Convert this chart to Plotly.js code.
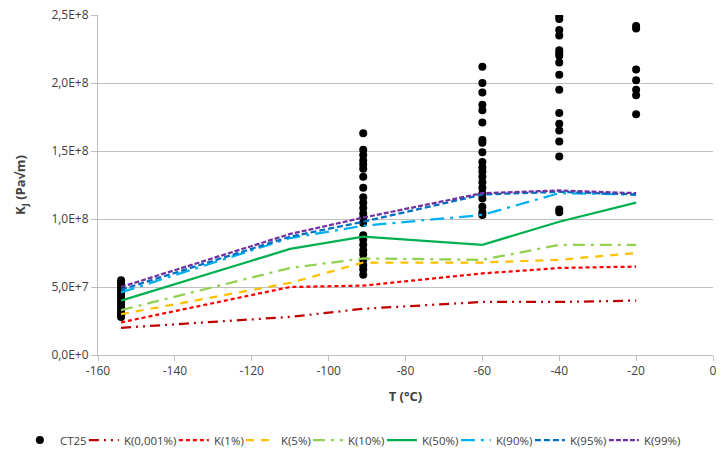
<!DOCTYPE html>
<html>
<head>
<meta charset="utf-8">
<script src="https://cdn.plot.ly/plotly-3.0.1.min.js"></script>
<style>html,body{margin:0;padding:0;background:#fff;}#chart{width:727px;height:452px;}</style>
</head>
<body>
<div id="chart"></div>
<script>
// CT25 test data: temperature (°C) and K_J (Pa√m)
const ct25_T = [
  -154,-154,-154,-154,-154,-154,-154,-154,-154,-154,-154,-154,-154,-154,-154,-154,
  -91,-91,-91,-91,-91,-91,-91,-91,-91,-91,-91,-91,-91,-91,-91,-91,-91,-91,-91,-91,-91,-91,-91,
  -60,-60,-60,-60,-60,-60,-60,-60,-60,-60,-60,-60,-60,-60,-60,-60,-60,-60,-60,-60,
  -40,-40,-40,-40,-40,-40,-40,-40,-40,-40,-40,-40,-40,-40,-40,-40,-40,
  -20,-20,-20,-20,-20,-20,-20
];
const ct25_K = [
  5.5e7,5.3e7,5.1e7,4.9e7,4.7e7,4.5e7,4.3e7,4.1e7,3.9e7,3.7e7,3.5e7,3.3e7,3.1e7,3.0e7,2.9e7,2.8e7,
  1.63e8,1.51e8,1.47e8,1.43e8,1.40e8,1.37e8,1.31e8,1.23e8,1.16e8,1.12e8,1.08e8,1.04e8,1.01e8,0.97e8,0.88e8,0.85e8,0.81e8,0.77e8,0.74e8,0.70e8,0.66e8,0.63e8,0.59e8,
  2.12e8,2.00e8,1.93e8,1.84e8,1.80e8,1.71e8,1.58e8,1.56e8,1.49e8,1.42e8,1.38e8,1.35e8,1.31e8,1.27e8,1.23e8,1.19e8,1.15e8,1.09e8,1.05e8,1.03e8,
  2.49e8,2.47e8,2.39e8,2.35e8,2.24e8,2.22e8,2.20e8,2.15e8,2.06e8,1.95e8,1.78e8,1.70e8,1.65e8,1.57e8,1.46e8,1.07e8,1.05e8,
  2.42e8,2.40e8,2.10e8,2.02e8,1.95e8,1.91e8,1.77e8
];

// Master curve temperatures and percentile curves
const curve_T = [-154, -110, -91, -60, -40, -20];
const k0001 = [2.0e7, 2.8e7, 3.4e7, 3.9e7, 3.9e7, 4.0e7];
const k1    = [2.4e7, 5.0e7, 5.1e7, 6.0e7, 6.4e7, 6.5e7];
const k5    = [3.0e7, 5.3e7, 6.8e7, 6.8e7, 7.0e7, 7.5e7];
const k10   = [3.3e7, 6.4e7, 7.1e7, 7.0e7, 8.1e7, 8.1e7];
const k50   = [4.0e7, 7.8e7, 8.7e7, 8.1e7, 9.8e7, 1.12e8];
const k90   = [4.6e7, 8.6e7, 9.5e7, 1.03e8, 1.19e8, 1.18e8];
const k95   = [4.8e7, 8.7e7, 9.8e7, 1.18e8, 1.20e8, 1.18e8];
const k99   = [5.0e7, 8.9e7, 1.01e8, 1.19e8, 1.21e8, 1.19e8];

const seriesNames = ["CT25","K(0,001%)","K(1%)","K(5%)","K(10%)","K(50%)","K(90%)","K(95%)","K(99%)"];
const yTickVals = [0, 5e7, 1e8, 1.5e8, 2e8, 2.5e8];
const yTickText = ["0,0E+0","5,0E+7","1,0E+8","1,5E+8","2,0E+8","2,5E+8"];
const xTickVals = [-160,-140,-120,-100,-80,-60,-40,-20,0];
const xTickText = ["-160","-140","-120","-100","-80","-60","-40","-20","0"];

const curves = [k0001, k1, k5, k10, k50, k90, k95, k99];
const colors = ["#c00000","#ff0000","#ffc000","#92d050","#00b050","#00b0f0","#0070c0","#7030a0"];
const dashes = ["10px,5px,2px,5px,2px,5px","4px,3px","8px,7px","12px,6px,3px,6px","solid","14px,6px,3px,6px","6px,3px","5px,2px"];
const legendWidths = [19, 45, 22, 22, 29, 29, 29, 29, 37];

const traces = [{
  x: ct25_T, y: ct25_K, type: "scatter", mode: "markers", name: seriesNames[0],
  marker: {color: "#000", size: 8}, legendwidth: legendWidths[0]
}];
curves.forEach((c, i) => {
  traces.push({
    x: curve_T, y: c, type: "scatter", mode: "lines", name: seriesNames[i+1],
    line: {color: colors[i], width: 2.25, dash: dashes[i]}, legendwidth: legendWidths[i+1]
  });
});

const font = "Open Sans, Noto Sans, sans-serif";
const layout = {
  width: 727, height: 452,
  margin: {l: 98, r: 14, t: 15, b: 97, autoexpand: false},
  paper_bgcolor: "#fff", plot_bgcolor: "#fff",
  font: {family: font, size: 12, color: "#404040"},
  showlegend: true,
  legend: {orientation: "h", xref: "paper", yref: "paper", x: -0.127, xanchor: "left",
           y: -0.25, yanchor: "middle", itemwidth: 30, tracegroupgap: 0,
           font: {family: font, size: 11.5, color: "#404040"}},
  xaxis: {
    range: [-160, 0], tickvals: xTickVals, ticktext: xTickText, ticks: "outside", ticklen: 5, tickcolor: "#bfbfbf",
    showline: true, linecolor: "#bfbfbf", linewidth: 1, showgrid: false, zeroline: false,
    tickfont: {family: font, size: 12, color: "#404040"},
    title: {text: "<b>T (°C)</b>", font: {family: font, size: 13, color: "#404040"}, standoff: 13}
  },
  yaxis: {
    range: [0, 2.5e8], tickvals: yTickVals, ticktext: yTickText, ticks: "outside", ticklen: 6,
    tickcolor: "#bfbfbf", showline: true, linecolor: "#bfbfbf", linewidth: 1,
    showgrid: true, gridcolor: "#bfbfbf", gridwidth: 1, zeroline: false,
    tickfont: {family: font, size: 12, color: "#404040"},
    title: {text: "<b>K<sub>J</sub> (Pa√m)</b>", font: {family: font, size: 13, color: "#404040"}, standoff: 22}
  }
};

Plotly.newPlot("chart", traces, layout, {displayModeBar: false, staticPlot: true});
</script>
</body>
</html>
